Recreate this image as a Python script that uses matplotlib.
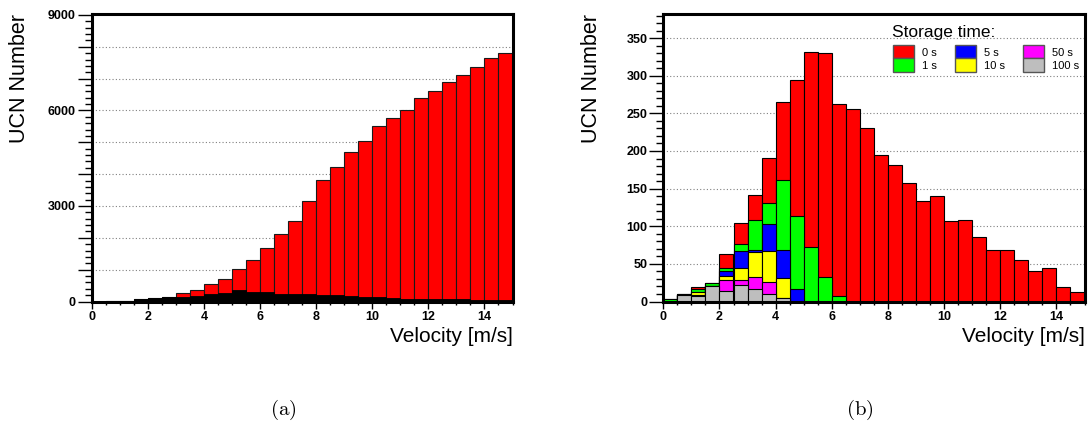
import numpy as np
import matplotlib
matplotlib.use("Agg")
import matplotlib.pyplot as plt
from matplotlib.patches import Patch
from matplotlib.ticker import MultipleLocator, FuncFormatter

plt.rcParams["font.family"] = ["Liberation Sans", "DejaVu Sans"]
plt.rcParams["mathtext.fontset"] = "cm"

# ---------------- data ----------------
bin_width = 0.5
bin_left = np.arange(0, 15, bin_width)  # 30 bins, 0..15 m/s

# panel (a)
spectrum_all = [0, 20, 20, 63, 105, 140, 270, 360, 535, 695, 1010, 1290, 1675, 2105,
                2535, 3150, 3830, 4220, 4700, 5030, 5500, 5750, 6000, 6380, 6610,
                6880, 7100, 7350, 7650, 7820]
spectrum_stored = [0, 20, 20, 63, 105, 136, 150, 188, 240, 272, 355, 314, 310, 240,
                   240, 220, 200, 190, 167, 146, 136, 105, 94, 73, 73, 63, 63, 52, 52, 42]

# panel (b)
storage_labels = ["0 s", "1 s", "5 s", "10 s", "50 s", "100 s"]
storage_colors = ["#ff0000", "#00ff00", "#0000ff", "#ffff00", "#ff00ff", "#bebebe"]
t0 = [3, 10, 19, 25, 63, 104, 142, 191, 265, 294, 332, 330, 262, 256, 230, 195, 182,
      158, 133, 140, 107, 108, 86, 69, 69, 55, 40, 44, 19, 13]
t1 = [3, 10, 17, 25, 45, 76, 108, 131, 161, 113, 73, 33, 7] + [0] * 17
t5 = [0, 8, 13, 20, 40, 67, 68, 103, 68, 17] + [0] * 20
t10 = [0, 8, 13, 20, 34, 45, 66, 67, 31, 0] + [0] * 20
t50 = [0, 8, 9, 20, 28, 28, 32, 26, 5, 0] + [0] * 20
t100 = [0, 8, 7, 20, 14, 22, 17, 10, 4, 0] + [0] * 20
storage_series = [t0, t1, t5, t10, t50, t100]

# ---------------- figure ----------------
fig = plt.figure(figsize=(10.91, 4.30), dpi=100)
W, H = 1091, 430
def axes_px(left, right, top, bottom):
    return fig.add_axes([left / W, 1 - bottom / H, (right - left) / W, (bottom - top) / H])

axa = axes_px(91.7, 512.5, 14, 301.5)
axb = axes_px(663.3, 1084.5, 14, 301.5)

def style(ax, ymax, ymajor, yminor, ylab_fmt, grid_vals):
    ax.set_xlim(0, 15)
    ax.set_ylim(0, ymax)
    ax.xaxis.set_major_locator(MultipleLocator(2))
    ax.xaxis.set_minor_locator(MultipleLocator(0.5))
    ax.yaxis.set_major_locator(MultipleLocator(ymajor))
    ax.yaxis.set_minor_locator(MultipleLocator(yminor))
    ax.yaxis.set_major_formatter(FuncFormatter(ylab_fmt))
    ax.tick_params(axis="y", which="major", direction="out", length=10, width=1.0, pad=1.5,
                   labelsize=9)
    ax.tick_params(axis="y", which="minor", direction="out", length=5, width=1.0)
    ax.tick_params(axis="x", which="major", direction="out", length=5, width=1.0, pad=1.5,
                   labelsize=9)
    ax.tick_params(axis="x", which="minor", direction="out", length=2.5, width=1.0)
    for lab in ax.get_xticklabels() + ax.get_yticklabels():
        lab.set_fontweight("bold")
    for sp in ax.spines.values():
        sp.set_linewidth(2.2)
        sp.set_zorder(10)
    for g in grid_vals:
        ax.axhline(g, color="#808080", linestyle=(0, (1, 2)), linewidth=0.8, zorder=0)
    ax.set_ylabel("UCN Number", fontsize=15.5, loc="top")
    ax.yaxis.set_label_coords(-0.146, 1.0)
    ax.set_xlabel("Velocity [m/s]", fontsize=15, loc="right")
    ax.xaxis.set_label_coords(1.0, -0.088)

# ---- panel (a)
axa.bar(bin_left, spectrum_all, width=bin_width, align="edge", color="#ff0000",
        edgecolor="#1a1a1a", linewidth=0.8, zorder=2)
axa.bar(bin_left, spectrum_stored, width=bin_width, align="edge", color="black",
        edgecolor="black", linewidth=0.6, zorder=3)
style(axa, 9030, 1000, 200, lambda v, p: f"{int(round(v))}" if round(v) % 3000 == 0 else "",
      np.arange(1000, 9000, 1000))

# ---- panel (b)
for i, (vals, col) in enumerate(zip(storage_series, storage_colors)):
    axb.bar(bin_left, vals, width=bin_width, align="edge", color=col,
            edgecolor="black", linewidth=0.8, zorder=2 + i)
style(axb, 382, 50, 10, lambda v, p: f"{int(round(v))}", np.arange(50, 351, 50))

handles = [Patch(facecolor=c, edgecolor="#555555", linewidth=1.0) for c in storage_colors]
leg = axb.legend(handles, storage_labels, ncol=3, loc="upper left",
                 bbox_to_anchor=((893 - 663.3) / 421.2, (301.5 - 45.3) / 287.5),
                 frameon=False, fontsize=8, handlelength=1.9, handleheight=1.45,
                 handletextpad=0.72, columnspacing=1.6, labelspacing=0.0,
                 borderpad=0.0, borderaxespad=0.0)
leg.set_zorder(20)
axb.text((892 - 663.3) / 421.2, (301.5 - 36.7) / 287.5, "Storage time:",
         transform=axb.transAxes, fontsize=12.5, ha="left", va="baseline", zorder=20)

fig.text(283 / W, 1 - 410 / H, r"$\mathrm{(a)}$", fontsize=15, ha="center", va="center")
fig.text(860 / W, 1 - 410 / H, r"$\mathrm{(b)}$", fontsize=15, ha="center", va="center")

fig.savefig("out.png", dpi=100, facecolor="white")
